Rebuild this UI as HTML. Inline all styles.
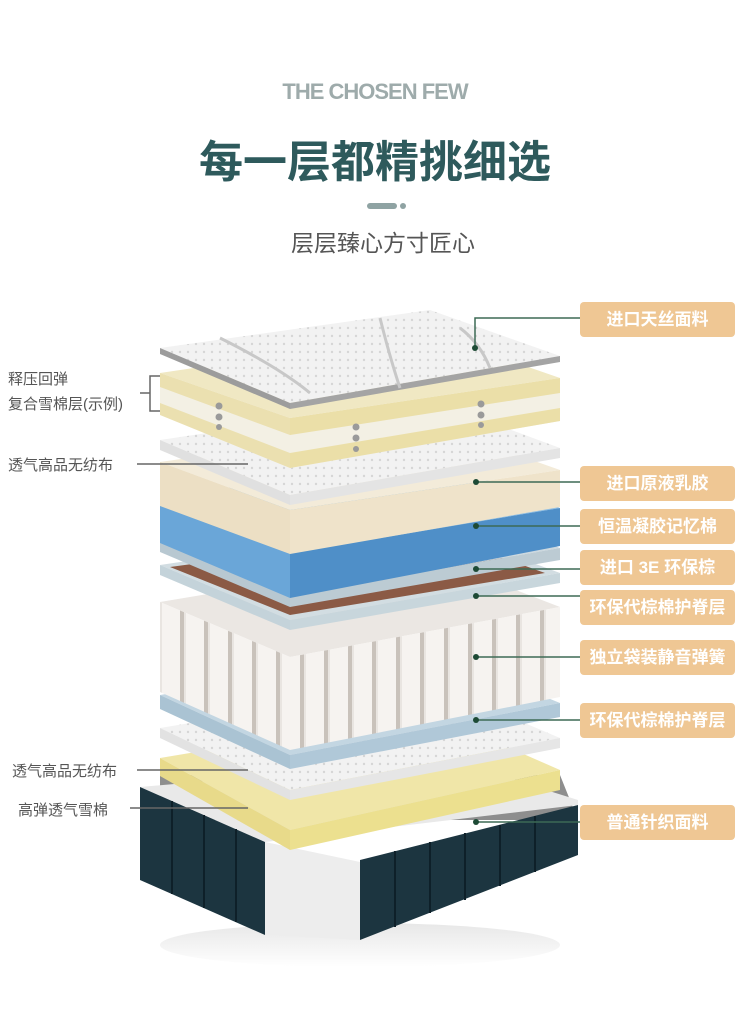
<!DOCTYPE html>
<html><head><meta charset="utf-8">
<style>
html,body{margin:0;padding:0;background:#fff;}
body{width:750px;height:1036px;overflow:hidden;position:relative;font-family:"Liberation Sans","Noto Sans CJK SC",sans-serif;}
.t{position:absolute;white-space:nowrap;}
.tag{position:absolute;left:580px;width:155px;height:35px;background:#efc794;border-radius:4px;color:#fff;font-weight:bold;font-size:17px;line-height:35px;text-align:center;font-family:"Liberation Sans","Noto Sans CJK SC",sans-serif;}
.lab{position:absolute;color:#555;font-size:15px;white-space:nowrap;}
</style></head><body>
<div class="t" style="left:0;width:750px;top:79px;text-align:center;font-size:22px;font-weight:bold;color:#9eabab;letter-spacing:-1px;">THE CHOSEN FEW</div>
<div class="t" style="left:0;width:750px;top:126px;text-align:center;font-size:44px;font-weight:bold;color:#2e5a5c;">每一层都精挑细选</div>
<div style="position:absolute;left:367px;top:203px;width:30px;height:6px;border-radius:3px;background:#8fa3a3;"></div>
<div style="position:absolute;left:400px;top:203px;width:6px;height:6px;border-radius:3px;background:#8fa3a3;"></div>
<div class="t" style="left:8px;width:750px;top:224px;text-align:center;font-size:23px;color:#555;">层层臻心方寸匠心</div>

<svg width="750" height="1036" style="position:absolute;left:0;top:0" xmlns="http://www.w3.org/2000/svg">
<defs>
<pattern id="spr" patternUnits="userSpaceOnUse" width="24" height="100">
<rect width="24" height="100" fill="#e9e5e1"/>
<rect x="2" width="18" height="100" fill="#f6f3f0"/>
<rect x="20" width="4" height="100" fill="#c9c2bb"/>
</pattern>
<pattern id="dots" patternUnits="userSpaceOnUse" width="8" height="8">
<rect width="8" height="8" fill="#f2f2f2"/><circle cx="4" cy="4" r="1.2" fill="#d6d6d6"/>
</pattern>
<linearGradient id="shadow" x1="0" y1="0" x2="0" y2="1"><stop offset="0" stop-color="#ddd"/><stop offset="1" stop-color="#fff"/></linearGradient>
</defs>

<ellipse cx="360" cy="945" rx="200" ry="22" fill="url(#shadow)" opacity="0.7"/>
<polygon points="160,775 560,775 578,820 160,820" fill="#8e8e8e"/>
<polygon points="140,787 265,842 578,805 578,800 450,760 140,787" fill="#e9e9e9"/>
<polygon points="265,842 360,862 360,940 265,935 240,905 140,845" fill="#ededed"/>
<polygon points="140,787 265,842 265,935 140,880" fill="#1c3540"/>
<g stroke="#0e2029" stroke-width="2"><line x1="172" y1="801" x2="172" y2="894"/><line x1="204" y1="815" x2="204" y2="908"/><line x1="236" y1="829" x2="236" y2="922"/></g>
<polygon points="360,860 578,805 578,855 360,940" fill="#1c3540"/>
<g stroke="#0e2029" stroke-width="2"><line x1="395" y1="851" x2="395" y2="927"/><line x1="430" y1="842" x2="430" y2="913"/><line x1="465" y1="833" x2="465" y2="900"/><line x1="500" y1="825" x2="500" y2="886"/><line x1="535" y1="816" x2="535" y2="872"/></g>

<g transform="translate(160,758)">
<polygon points="0,0 130,72 400,12 270,-45" fill="#f0e6a8"/>
<polygon points="0,0 130,72 130,92 0,18" fill="#e8da8a"/>
<polygon points="130,72 400,12 400,32 130,92" fill="#ece08f"/>
</g>
<g transform="translate(160,728)">
<polygon points="0,0 130,62 400,10 270,-45" fill="url(#dots)"/>
<polygon points="0,0 130,62 130,72 0,10" fill="#e2e2e2"/>
<polygon points="130,62 400,10 400,20 130,72" fill="#e6e6e6"/>
</g>
<g transform="translate(160,695)">
<polygon points="0,0 130,60 400,8 270,-45" fill="#c3d6e2"/>
<polygon points="0,0 130,60 130,74 0,14" fill="#aac3d3"/>
<polygon points="130,60 400,8 400,22 130,74" fill="#b0c8d8"/>
</g>
<g transform="translate(160,602)">
<polygon points="0,0 130,55 400,5 270,-45" fill="#ebe7e3"/>
<polygon points="0,0 130,55 130,148 0,90" fill="url(#spr)"/>
<polygon points="130,55 400,5 400,95 130,148" fill="url(#spr)"/>
</g>
<g transform="translate(160,565)">
<polygon points="0,0 130,55 400,8 270,-40" fill="#d2dde2"/>
<polygon points="10,2 130,50 385,8 270,-33" fill="#8b5a45"/>
<polygon points="0,0 130,55 130,65 0,10" fill="#c4d3da"/>
<polygon points="130,55 400,8 400,18 130,65" fill="#c8d6dc"/>
</g>
<g transform="translate(160,540)">
<polygon points="0,0 130,55 400,8 270,-42" fill="#ccd8df"/>
<polygon points="0,0 130,55 130,67 0,12" fill="#b8c8d1"/>
<polygon points="130,55 400,8 400,20 130,67" fill="#bccbd3"/>
</g>
<g transform="translate(160,498)">
<polygon points="0,0 130,55 400,10 270,-40" fill="#8cbde3"/>
<polygon points="0,0 130,55 130,100 0,45" fill="#6aa6d8"/>
<polygon points="130,55 400,10 400,48 130,100" fill="#4f8fc8"/>
</g>
<g transform="translate(160,462)">
<polygon points="0,0 130,48 400,8 270,-38" fill="#f3ebd9"/>
<polygon points="0,0 130,48 130,92 0,44" fill="#ecdfc4"/>
<polygon points="130,48 400,8 400,45 130,92" fill="#efe3ca"/>
</g>
<g transform="translate(160,440)">
<polygon points="0,0 130,55 400,8 270,-40" fill="url(#dots)"/>
<polygon points="0,0 130,55 130,65 0,10" fill="#e0e0e0"/>
<polygon points="130,55 400,8 400,18 130,65" fill="#e4e4e4"/>
</g>
<g transform="translate(160,373)">
<polygon points="0,0 130,45 400,5 270,-40" fill="#f0e8c3"/>
<polygon points="0,0 130,45 130,95 0,40" fill="#f3f0e4"/>
<polygon points="130,45 400,5 400,48 130,95" fill="#f3f0e4"/>
<polygon points="0,0 130,45 130,62 0,14" fill="#ebe0b0"/>
<polygon points="130,45 400,5 400,20 130,62" fill="#ebdfa8"/>
<polygon points="0,30 130,80 130,95 0,42" fill="#ebe0b0"/>
<polygon points="130,80 400,35 400,48 130,95" fill="#ebdfa8"/>
</g>
<g fill="#9a9a9a"><circle cx="219" cy="406" r="3.5"/><circle cx="219" cy="417" r="3.5"/><circle cx="219" cy="427" r="3"/><circle cx="356" cy="427" r="3.5"/><circle cx="356" cy="438" r="3.5"/><circle cx="356" cy="449" r="3"/><circle cx="481" cy="404" r="3.5"/><circle cx="481" cy="415" r="3.5"/><circle cx="481" cy="425" r="3"/></g>
<g transform="translate(160,348)">
<polygon points="0,0 130,55 400,8 270,-38" fill="url(#dots)"/>
<polygon points="0,0 130,55 130,61 0,6" fill="#9c9c9c"/>
<polygon points="130,55 400,8 400,14 130,61" fill="#a4a4a4"/>
<path d="M60,-10 Q120,20 150,45 M220,-30 Q230,10 240,40 M300,-20 Q320,-5 330,20" stroke="#c8c8c8" stroke-width="3" fill="none"/>
</g>

<g stroke="#3d6a55" stroke-width="1.5" fill="none">
<polyline points="475,348 475,318 580,318"/>
<line x1="476" y1="482" x2="580" y2="482"/>
<line x1="476" y1="526" x2="580" y2="526"/>
<line x1="476" y1="569" x2="580" y2="569"/>
<line x1="476" y1="596" x2="580" y2="596"/>
<line x1="476" y1="657" x2="580" y2="657"/>
<line x1="476" y1="720" x2="580" y2="720"/>
<line x1="476" y1="822" x2="580" y2="822"/>
</g>
<g fill="#1d4a35"><circle cx="475" cy="348" r="3"/><circle cx="476" cy="482" r="3"/><circle cx="476" cy="526" r="3"/><circle cx="476" cy="569" r="3"/><circle cx="476" cy="596" r="3"/><circle cx="476" cy="657" r="3"/><circle cx="476" cy="720" r="3"/><circle cx="476" cy="822" r="3"/></g>
<g stroke="#666" stroke-width="1.5" fill="none">
<polyline points="160,376 150,376 150,411 160,411"/>
<line x1="140" y1="393" x2="150" y2="393"/>
<line x1="137" y1="464" x2="248" y2="464"/>
<line x1="137" y1="770" x2="248" y2="770"/>
<line x1="130" y1="808" x2="248" y2="808"/>
</g>
</svg>

<div class="lab" style="left:8px;top:368px;">释压回弹</div>
<div class="lab" style="left:8px;top:393px;">复合雪棉层(示例)</div>
<div class="lab" style="left:8px;top:454px;">透气高品无纺布</div>
<div class="lab" style="left:12px;top:760px;">透气高品无纺布</div>
<div class="lab" style="left:18px;top:799px;">高弹透气雪棉</div>

<div class="tag" style="top:302px;">进口天丝面料</div>
<div class="tag" style="top:466px;">进口原液乳胶</div>
<div class="tag" style="top:509px;">恒温凝胶记忆棉</div>
<div class="tag" style="top:550px;">进口 3E 环保棕</div>
<div class="tag" style="top:590px;">环保代棕棉护脊层</div>
<div class="tag" style="top:640px;">独立袋装静音弹簧</div>
<div class="tag" style="top:703px;">环保代棕棉护脊层</div>
<div class="tag" style="top:805px;">普通针织面料</div>
</body></html>
